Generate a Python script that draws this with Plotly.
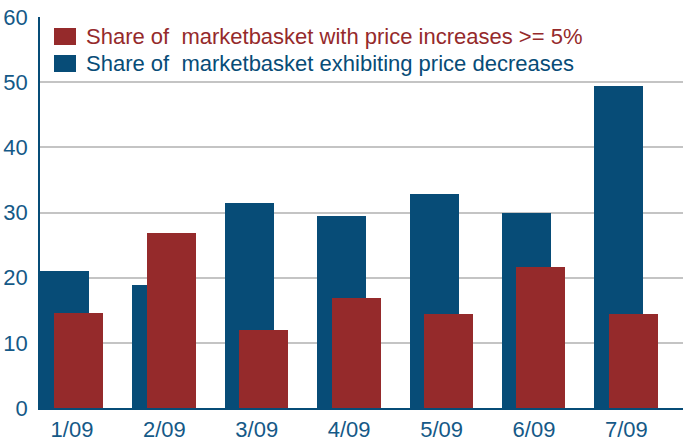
import plotly.graph_objects as go

categories = ["1/09", "2/09", "3/09", "4/09", "5/09", "6/09", "7/09"]
decreases = [21.1, 18.8, 31.5, 29.4, 32.8, 30.0, 49.4]
increases = [14.6, 26.9, 11.9, 16.9, 14.5, 21.6, 14.5]
name_inc = "Share of  marketbasket with price increases >= 5%"
name_dec = "Share of  marketbasket exhibiting price decreases"
y_ticks = [0, 10, 20, 30, 40, 50, 60]

BLUE = "#074c77"
RED = "#952a2b"
TEXT_BLUE = "#155987"
FONT = "Liberation Sans, Arial, sans-serif"

fig = go.Figure()
fig.add_trace(go.Bar(x=categories, y=decreases, name=name_dec, marker=dict(color=BLUE, line=dict(width=0)),
                     width=0.53, offset=-0.345, showlegend=False))
fig.add_trace(go.Bar(x=categories, y=increases, name=name_inc, marker=dict(color=RED, line=dict(width=0)),
                     width=0.53, offset=-0.19, showlegend=False))

L, R, T, B = 40, 0, 17, 33
W, H = 683, 441
pw, ph = W - L - R, H - T - B

def px(xp):
    return (xp - L) / pw

def py(yp):
    return (H - B - yp) / ph

# legend swatches and labels
for (y0, y1, col, name) in [(28, 45, RED, name_inc), (55, 72, BLUE, name_dec)]:
    fig.add_shape(type="rect", xref="paper", yref="paper", x0=px(54), x1=px(76), y0=py(y1), y1=py(y0),
                  fillcolor=col, line=dict(width=0))
    fig.add_annotation(xref="paper", yref="paper", x=px(84), y=py((y0 + y1) / 2), text=name,
                       showarrow=False, xanchor="left", yanchor="middle",
                       font=dict(family=FONT, size=22, color=col))

fig.update_layout(
    width=W, height=H,
    margin=dict(l=L, r=R, t=T, b=B, autoexpand=False),
    barmode="overlay",
    plot_bgcolor="white", paper_bgcolor="white",
    bargap=0,
    font=dict(family=FONT, size=22, color=TEXT_BLUE),
)
fig.update_xaxes(type="category", range=[-0.346, 6.613], showgrid=False, automargin=False,
                 showline=True, linecolor=BLUE, linewidth=1.5, ticks="",
                 tickfont=dict(size=22, color=TEXT_BLUE), ticklabelstandoff=1)
fig.update_yaxes(range=[0, 60], tickvals=y_ticks, showgrid=True, gridcolor="#c4c4c4", gridwidth=1.5,
                 showline=True, linecolor=BLUE, linewidth=1.5, ticks="", zeroline=False, automargin=False,
                 tickfont=dict(size=22, color=TEXT_BLUE), ticklabelstandoff=6)

fig.write_html("out.html", config={"displayModeBar": False},
               post_script="document.body.style.margin='0';document.body.style.overflow='hidden';")
